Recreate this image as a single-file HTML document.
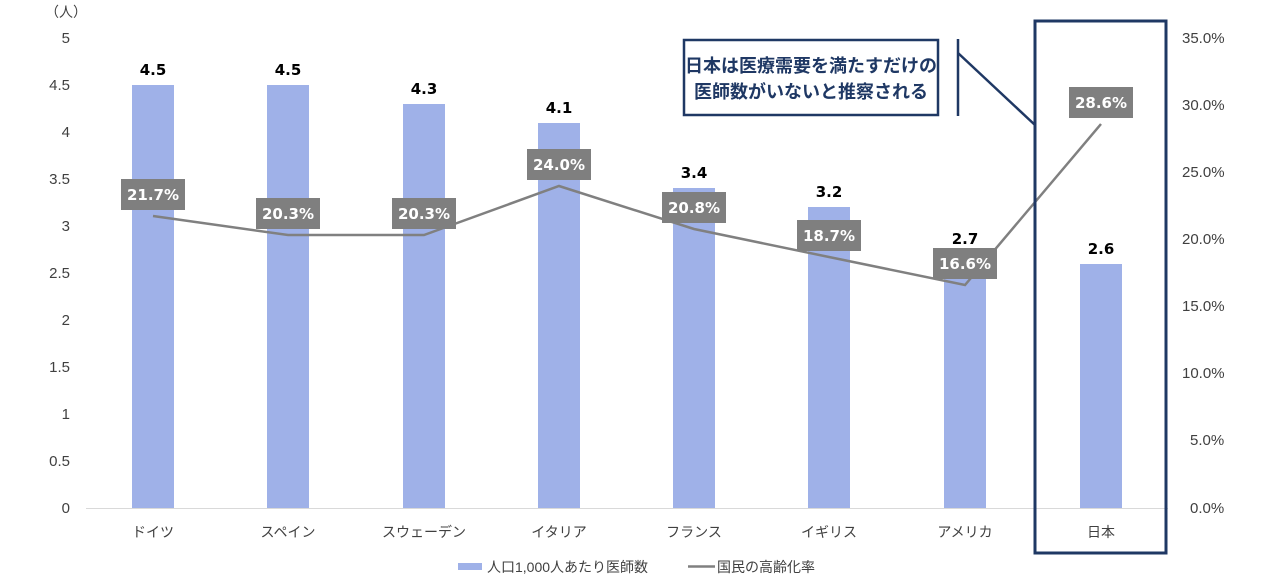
<!DOCTYPE html>
<html><head><meta charset="utf-8"><style>
html,body{margin:0;padding:0;background:#fff;}
svg{display:block;font-family:"DejaVu Sans","Liberation Sans","Noto Sans CJK JP",sans-serif;}
</style></head><body>
<svg id="c" width="1280" height="580" viewBox="0 0 1280 580" xmlns="http://www.w3.org/2000/svg">
<rect width="1280" height="580" fill="#fff"/>
<g font-size="15" fill="#404040" font-family="Liberation Sans,Noto Sans CJK JP,sans-serif">
<text x="45" y="17" font-size="14">（人）</text>
<text x="70" y="43" text-anchor="end">5</text>
<text x="70" y="90" text-anchor="end">4.5</text>
<text x="70" y="137" text-anchor="end">4</text>
<text x="70" y="184" text-anchor="end">3.5</text>
<text x="70" y="231" text-anchor="end">3</text>
<text x="70" y="278" text-anchor="end">2.5</text>
<text x="70" y="325" text-anchor="end">2</text>
<text x="70" y="372" text-anchor="end">1.5</text>
<text x="70" y="419" text-anchor="end">1</text>
<text x="70" y="466" text-anchor="end">0.5</text>
<text x="70" y="513" text-anchor="end">0</text>
<text x="1182" y="43">35.0%</text>
<text x="1182" y="110">30.0%</text>
<text x="1182" y="177">25.0%</text>
<text x="1182" y="244">20.0%</text>
<text x="1182" y="311">15.0%</text>
<text x="1182" y="378">10.0%</text>
<text x="1190" y="445">5.0%</text>
<text x="1190" y="513">0.0%</text>
</g>
<line x1="86" y1="508.5" x2="1168" y2="508.5" stroke="#d9d9d9" stroke-width="1"/>
<g fill="#9fb1e8">
<rect x="132" y="85" width="42" height="423"/>
<rect x="267" y="85" width="42" height="423"/>
<rect x="403" y="104" width="42" height="404"/>
<rect x="538" y="123" width="42" height="385"/>
<rect x="673" y="188" width="42" height="320"/>
<rect x="808" y="207" width="42" height="301"/>
<rect x="944" y="254" width="42" height="254"/>
<rect x="1080" y="264" width="42" height="244"/>
</g>
<g font-size="15" font-weight="bold" fill="#000" text-anchor="middle">
<text x="153" y="75">4.5</text>
<text x="288" y="75">4.5</text>
<text x="424" y="94">4.3</text>
<text x="559" y="113">4.1</text>
<text x="694" y="178">3.4</text>
<text x="829" y="197">3.2</text>
<text x="965" y="244">2.7</text>
<text x="1101" y="254">2.6</text>
</g>
<polyline fill="none" stroke="#808080" stroke-width="2.5" points="153,216 288,235 424,235 559,186 694,229 829,257 965,285 1101,124"/>
<g fill="#7f7f7f">
<rect x="121" y="179" width="64" height="31"/>
<rect x="256" y="198" width="64" height="31"/>
<rect x="392" y="198" width="64" height="31"/>
<rect x="527" y="149" width="64" height="31"/>
<rect x="662" y="192" width="64" height="31"/>
<rect x="797" y="220" width="64" height="31"/>
<rect x="933" y="248" width="64" height="31"/>
<rect x="1069" y="87" width="64" height="31"/>
</g>
<g font-size="15" font-weight="bold" fill="#fff" text-anchor="middle">
<text x="153" y="200">21.7%</text>
<text x="288" y="219">20.3%</text>
<text x="424" y="219">20.3%</text>
<text x="559" y="170">24.0%</text>
<text x="694" y="213">20.8%</text>
<text x="829" y="241">18.7%</text>
<text x="965" y="269">16.6%</text>
<text x="1101" y="108">28.6%</text>
</g>
<g font-size="14" fill="#404040" text-anchor="middle" font-family="Liberation Sans,Noto Sans CJK JP,sans-serif">
<text x="153" y="537">ドイツ</text>
<text x="288" y="537">スペイン</text>
<text x="424" y="537">スウェーデン</text>
<text x="559" y="537">イタリア</text>
<text x="694" y="537">フランス</text>
<text x="829" y="537">イギリス</text>
<text x="965" y="537">アメリカ</text>
<text x="1101" y="537">日本</text>
</g>
<rect x="1035" y="21" width="131" height="532" fill="none" stroke="#1f3864" stroke-width="3"/>
<rect x="684" y="40" width="254" height="75" fill="#fff" stroke="#1f3864" stroke-width="2.5"/>
<line x1="958" y1="39" x2="958" y2="116" stroke="#1f3864" stroke-width="2.5"/>
<line x1="958" y1="53" x2="1035" y2="125" stroke="#1f3864" stroke-width="2.5"/>
<g font-size="18" font-weight="bold" fill="#1f3864" text-anchor="middle" font-family="Noto Sans CJK JP,sans-serif">
<text x="811" y="72">日本は医療需要を満たすだけの</text>
<text x="811" y="98">医師数がいないと推察される</text>
</g>
<rect x="458" y="563" width="24" height="7" fill="#9fb1e8"/>
<line x1="688" y1="566.5" x2="715" y2="566.5" stroke="#808080" stroke-width="2.5"/>
<g font-size="14" fill="#404040" font-family="Liberation Sans,Noto Sans CJK JP,sans-serif">
<text x="487" y="572">人口1,000人あたり医師数</text>
<text x="717" y="572">国民の高齢化率</text>
</g>
</svg>
</body></html>
